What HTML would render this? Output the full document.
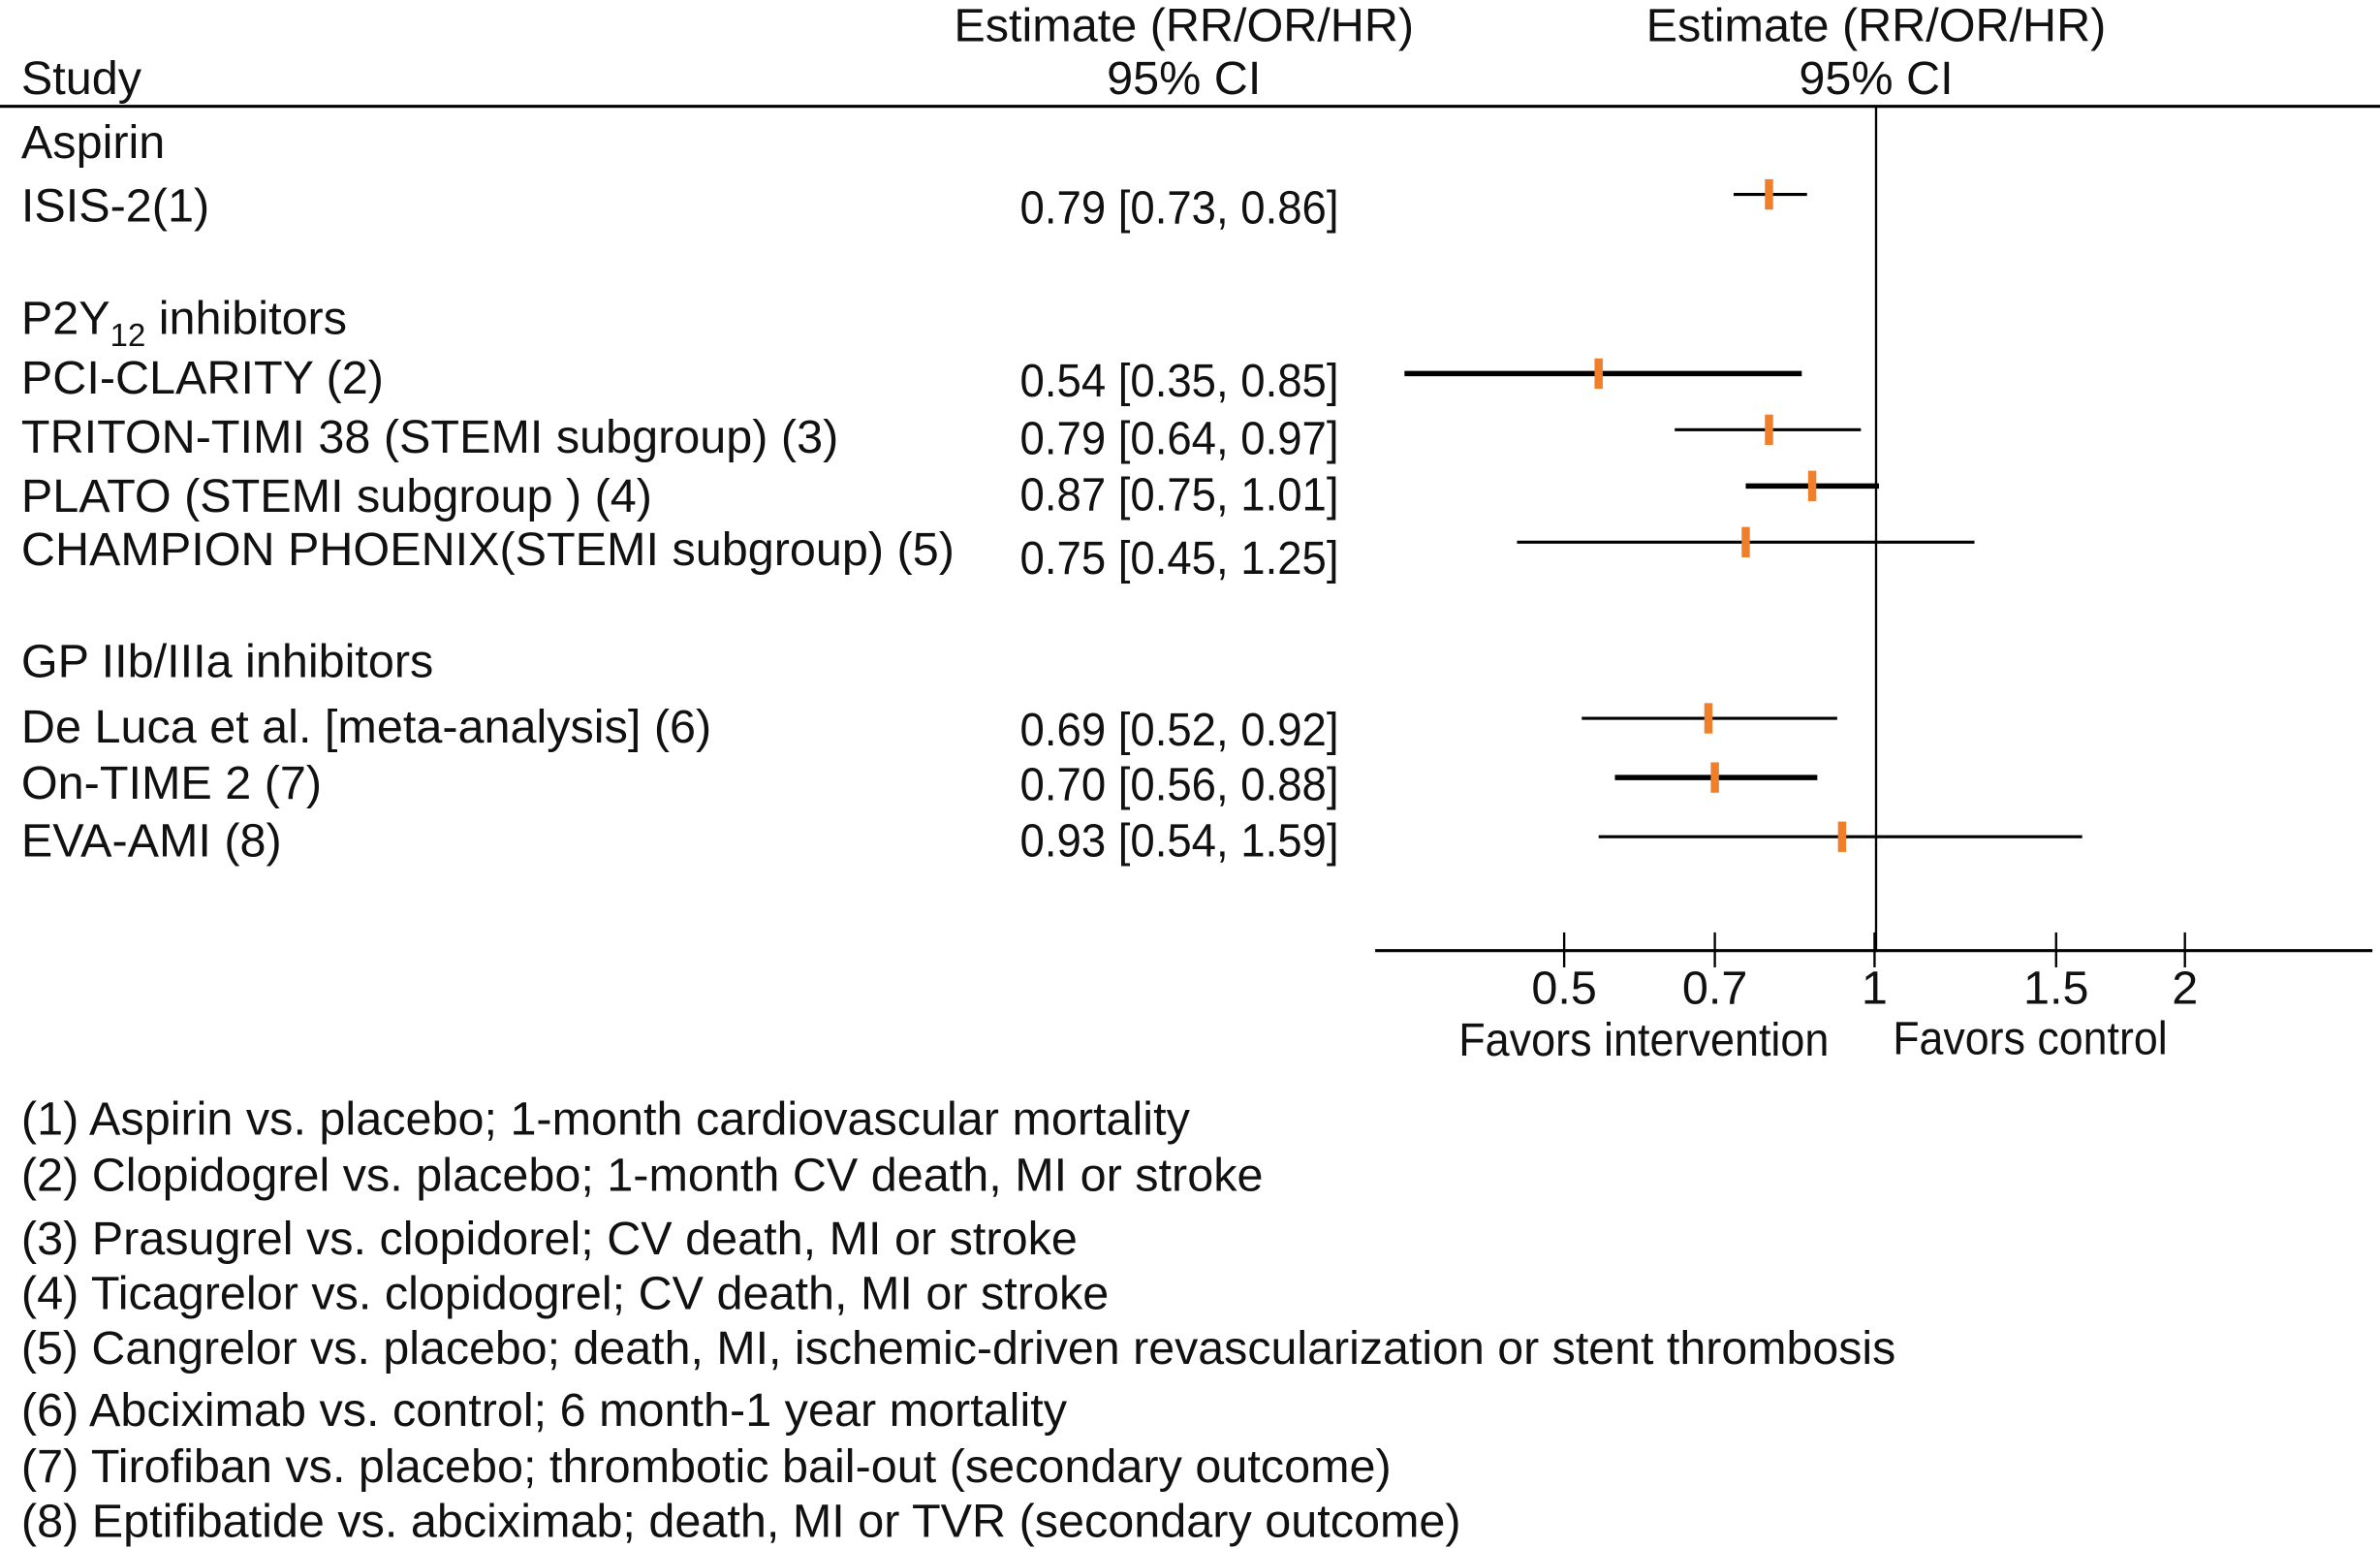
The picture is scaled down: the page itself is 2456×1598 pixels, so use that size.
<!DOCTYPE html>
<html><head><meta charset="utf-8"><style>
html,body{margin:0;padding:0;background:#fff;}
svg{display:block;}
text{font-family:"Liberation Sans",Arial,sans-serif;fill:#111;font-size:31px;}
</style></head><body>
<svg id="chart" width="2456" height="1598" viewBox="0 0 1568 1020" preserveAspectRatio="none" xmlns="http://www.w3.org/2000/svg">
<g>
<text x="14" y="62">Study</text>
<text x="780" y="27" text-anchor="middle">Estimate (RR/OR/HR)</text>
<text x="780" y="62" text-anchor="middle">95% CI</text>
<text x="1236" y="27" text-anchor="middle">Estimate (RR/OR/HR)</text>
<text x="1236" y="62" text-anchor="middle">95% CI</text>
<line x1="0" y1="70" x2="1568" y2="70" stroke="#000" stroke-width="2"/>
</g>
<g>
<text x="14" y="104">Aspirin</text>
<text x="14" y="220">P2Y<tspan dy="8" font-size="21">12</tspan><tspan dy="-8"> inhibitors</tspan></text>
<text x="14" y="446">GP IIb/IIIa inhibitors</text>
</g>
<g id="rows"></g>
<g id="axis"></g>
<g>
<text x="14" y="747">(1) Aspirin vs. placebo; 1-month cardiovascular mortality</text>
<text x="14" y="784">(2) Clopidogrel vs. placebo; 1-month CV death, MI or stroke</text>
<text x="14" y="826">(3) Prasugrel vs. clopidorel; CV death, MI or stroke</text>
<text x="14" y="862">(4) Ticagrelor vs. clopidogrel; CV death, MI or stroke</text>
<text x="14" y="898" textLength="1235" lengthAdjust="spacingAndGlyphs">(5) Cangrelor vs. placebo; death, MI, ischemic-driven revascularization or stent thrombosis</text>
<text x="14" y="939">(6) Abciximab vs. control; 6 month-1 year mortality</text>
<text x="14" y="976">(7) Tirofiban vs. placebo; thrombotic bail-out (secondary outcome)</text>
<text x="14" y="1012">(8) Eptifibatide vs. abciximab; death, MI or TVR (secondary outcome)</text>
</g>
</svg>
<script>
const studies = ["ISIS-2(1)","PCI-CLARITY (2)","TRITON-TIMI 38 (STEMI subgroup) (3)","PLATO (STEMI subgroup ) (4)","CHAMPION PHOENIX(STEMI subgroup) (5)","De Luca et al. [meta-analysis] (6)","On-TIME 2 (7)","EVA-AMI (8)"];
const estimates = [0.79,0.54,0.79,0.87,0.75,0.69,0.70,0.93];
const lowers = [0.73,0.35,0.64,0.75,0.45,0.52,0.56,0.54];
const uppers = [0.86,0.85,0.97,1.01,1.25,0.92,0.88,1.59];
const estLabels = ["0.79 [0.73, 0.86]","0.54 [0.35, 0.85]","0.79 [0.64, 0.97]","0.87 [0.75, 1.01]","0.75 [0.45, 1.25]","0.69 [0.52, 0.92]","0.70 [0.56, 0.88]","0.93 [0.54, 1.59]"];
const thick = [false,true,false,true,false,false,true,false];
const tickValues = [0.5,0.7,1,1.5,2];
const tickLabels = ["0.5","0.7","1","1.5","2"];
const rowY = [128,246,283,320,357,473,512,551];
const nameBase = [146,259,298,337,372,489,526,564];
const estBase = [147,261,299,336,378,491,527,564];
const ns="http://www.w3.org/2000/svg";
function xs(v){return 1235+295*Math.log(v);}
function mk(tag,attrs,parent){const e=document.createElementNS(ns,tag);for(const k in attrs)e.setAttribute(k,attrs[k]);parent.appendChild(e);return e;}
const rows=document.getElementById('rows');
const axis=document.getElementById('axis');
mk('line',{x1:1236,y1:70,x2:1236,y2:626,stroke:'#000','stroke-width':1.5},axis);
mk('line',{x1:906,y1:626,x2:1563,y2:626,stroke:'#000','stroke-width':2},axis);
tickValues.forEach((v,i)=>{
 const t=mk('line',{x1:xs(v),y1:614,x2:xs(v),y2:637,stroke:'#000','stroke-width':1.5},axis);
 
 
 const l=mk('text',{x:xs(v),y:661,'text-anchor':'middle'},axis);
 l.textContent=tickLabels[i];
 
 
});
const f1=mk('text',{x:961,y:695,textLength:244,lengthAdjust:'spacingAndGlyphs'},axis);f1.textContent='Favors intervention';


const f2=mk('text',{x:1247,y:694,textLength:181,lengthAdjust:'spacingAndGlyphs'},axis);f2.textContent='Favors control';


studies.forEach((s,i)=>{
 const y=rowY[i];
 const n=mk('text',{x:14,y:nameBase[i]},rows);n.textContent=s;
 
 
 const e=mk('text',{x:672,y:estBase[i],textLength:210,lengthAdjust:'spacingAndGlyphs'},rows);e.textContent=estLabels[i];
 
 
 const ci=mk('line',{x1:xs(lowers[i]),y1:y,x2:xs(uppers[i]),y2:y,stroke:'#000','stroke-width':thick[i]?3.5:2},rows);
 
 
 const p=mk('rect',{x:xs(estimates[i])-2.7,y:y-10,width:5.4,height:20,fill:'#f07f2c'},rows);
 
 
});
</script>
</body></html>
